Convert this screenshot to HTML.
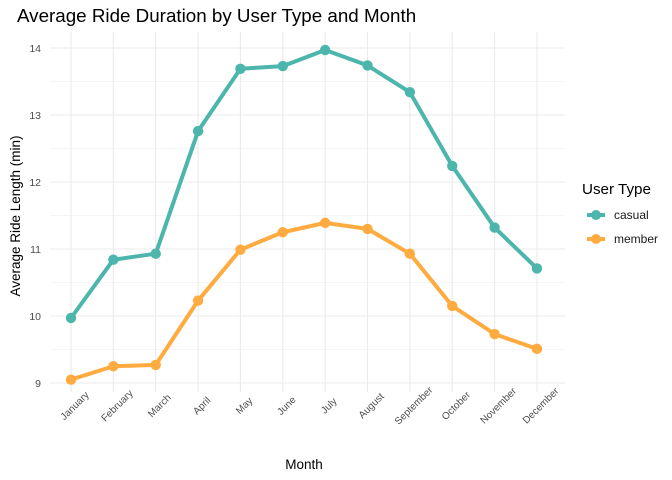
<!DOCTYPE html>
<html><head><meta charset="utf-8"><style>
body{margin:0;background:#fff;}
svg{display:block;font-family:"Liberation Sans",sans-serif;}
</style></head><body>
<svg width="672" height="480">
<g id="grid"></g>
<g id="series"></g>
<g id="axes"></g>
<text x="17" y="22" font-size="18.8" fill="#000">Average Ride Duration by User Type and Month</text>
<text transform="translate(20,216) rotate(-90)" text-anchor="middle" font-size="13.5" fill="#000">Average Ride Length (min)</text>
<text x="304" y="469" text-anchor="middle" font-size="13.5" fill="#000">Month</text>
<g>
<text x="582" y="194" font-size="15.2" fill="#000">User Type</text>
<g>
<line x1="587" y1="215" x2="605" y2="215" stroke="#4db6ac" stroke-width="4"/><circle cx="596" cy="215" r="5" fill="#4db6ac"/>
<text x="614" y="219" font-size="12" fill="#1a1a1a">casual</text></g>
<g>
<line x1="587" y1="239" x2="605" y2="239" stroke="#ffab40" stroke-width="4"/><circle cx="596" cy="239" r="5" fill="#ffab40"/>
<text x="614" y="243" font-size="12" fill="#1a1a1a">member</text></g>
</g>
</svg>
<script>
const months=["January","February","March","April","May","June","July","August","September","October","November","December"];
const casual=[9.97,10.84,10.93,12.76,13.69,13.73,13.97,13.74,13.34,12.24,11.32,10.71];
const member=[9.05,9.25,9.27,10.23,10.99,11.25,11.39,11.30,10.93,10.15,9.73,9.51];
const yTicks=[9,10,11,12,13,14];
const NS="http://www.w3.org/2000/svg";
const x=i=>71+i*42.36;
const y=v=>383-(v-9)*67;
function mk(tag,attrs,parent){const e=document.createElementNS(NS,tag);for(const k in attrs)e.setAttribute(k,attrs[k]);parent.appendChild(e);return e;}
const grid=document.getElementById('grid'),axes=document.getElementById('axes'),series=document.getElementById('series');
const L=50,R=565;
for(let v=8.5;v<=14.5;v+=0.5){
 if(v<8.75||v>14.25) continue;
 const g=mk('line',{x1:L,x2:R,y1:y(v),y2:y(v),stroke:'#ebebeb','stroke-width':Number.isInteger(v)?1.1:0.55},grid);
 
 
}
months.forEach((m,i)=>{
 const g=mk('line',{x1:x(i),x2:x(i),y1:32,y2:392,stroke:'#ebebeb','stroke-width':1.1},grid);
 
 
 const t=mk('text',{transform:`translate(${x(i)+6},${408}) rotate(-45)`,'text-anchor':'middle','font-size':'10','fill':'#4d4d4d'},axes);
 t.textContent=m;
 
 
});
yTicks.forEach(v=>{
 const t=mk('text',{x:41,y:y(v)+4,'text-anchor':'end','font-size':'10.5','fill':'#4d4d4d'},axes);
 t.textContent=v;
 
 
});
[[casual,'#4db6ac','casual'],[member,'#ffab40','member']].forEach(([d,c,n])=>{
 const p=mk('polyline',{points:d.map((v,i)=>x(i)+','+y(v)).join(' '),fill:'none',stroke:c,'stroke-width':4,'stroke-linejoin':'round'},series);
 
 
 d.forEach((v,i)=>{
  const ci=mk('circle',{cx:x(i),cy:y(v),r:5.2,fill:c},series);
  
  
 });
});
</script>
</body></html>
